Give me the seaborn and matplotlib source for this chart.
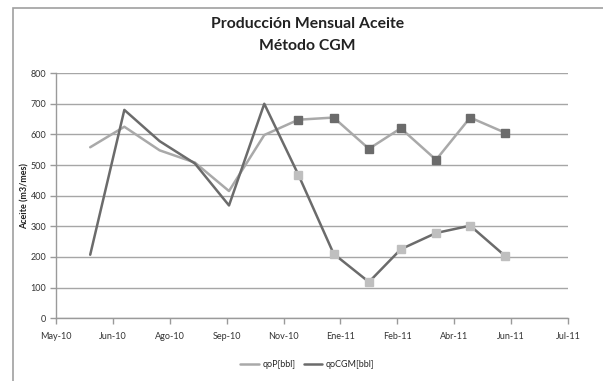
import datetime as dt
import matplotlib
matplotlib.use("Agg")
import matplotlib.pyplot as plt
from matplotlib.patches import Rectangle
from matplotlib.lines import Line2D
import numpy as np
import pandas as pd
import seaborn as sns

# Monthly production, May-2010 .. May-2011 (month-end dates)
fechas = pd.to_datetime([
    "2010-05-31", "2010-06-30", "2010-07-31", "2010-08-31", "2010-09-30",
    "2010-10-31", "2010-11-30", "2010-12-31", "2011-01-31", "2011-02-28",
    "2011-03-31", "2011-04-30", "2011-05-31",
])
qoP = [558, 625, 548, 508, 415, 598, 648, 655, 553, 620, 517, 655, 605]
qoCGM = [207, 680, 578, 505, 368, 700, 468, 210, 118, 225, 278, 302, 202]
inicio_marcadores = 6  # points from Nov-10 on carry square markers

meses_es = ["Ene", "Feb", "Mar", "Abr", "May", "Jun",
            "Jul", "Ago", "Sep", "Oct", "Nov", "Dic"]

df = pd.DataFrame({"fecha": fechas, "qoP[bbl]": qoP, "qoCGM[bbl]": qoCGM})

sns.set_theme(style="white")
plt.rcParams["font.family"] = ["Lato", "DejaVu Sans"]

fig = plt.figure(figsize=(6.03, 3.81), dpi=100)
ax = fig.add_axes([0.093, 0.165, 0.849, 0.643])

light = "#a9a9a9"
dark = "#6b6b6b"

sns.lineplot(data=df, x="fecha", y="qoP[bbl]", ax=ax, color=light, lw=1.8)
sns.lineplot(data=df, x="fecha", y="qoCGM[bbl]", ax=ax, color=dark, lw=1.8)

sub = df.iloc[inicio_marcadores:]
ax.plot(sub["fecha"], sub["qoP[bbl]"], ls="none", marker="s", ms=5.5,
        mfc=dark, mec=dark, zorder=4)
ax.plot(sub["fecha"], sub["qoCGM[bbl]"], ls="none", marker="s", ms=5.5,
        mfc="#bfbfbf", mec="#bfbfbf", zorder=4)

# Axes limits and ticks (date axis, 50-day major unit)
x0 = dt.datetime(2010, 5, 1)
x1 = x0 + dt.timedelta(days=450)
ax.set_xlim(x0, x1)
ticks = [x0 + dt.timedelta(days=50 * i) for i in range(10)]
ax.set_xticks(ticks)
ax.set_xticklabels([f"{meses_es[t.month - 1]}-{t.strftime('%y')}" for t in ticks])
ax.set_ylim(0, 800)
ax.set_yticks(np.arange(0, 801, 100))

ax.yaxis.grid(True, color="#a6a6a6", lw=1.0)
ax.xaxis.grid(False)
for s in ["top", "right"]:
    ax.spines[s].set_visible(False)
for s in ["left", "bottom"]:
    ax.spines[s].set_color("#9a9a9a")
    ax.spines[s].set_linewidth(1.0)
ax.tick_params(axis="both", which="major", length=4, width=1,
               color="#9a9a9a", labelsize=6.5, labelcolor="#333333",
               bottom=True, left=True, pad=3)
ax.tick_params(axis="x", pad=6)

ax.set_xlabel("")
ax.set_ylabel("Aceite (m3/mes)", fontsize=6.5, fontweight="bold",
              color="#222222")
ax.yaxis.set_label_coords(-0.051, 0.5)

fig.text(0.510, 0.938, "Producción Mensual Aceite", ha="center", va="center",
         fontsize=11.3, fontweight="bold", color="#222222")
fig.text(0.510, 0.880, "Método CGM", ha="center", va="center",
         fontsize=11.3, fontweight="bold", color="#222222")

handles = [Line2D([], [], color=light, lw=1.8),
           Line2D([], [], color=dark, lw=1.8)]
fig.legend(handles, ["qoP[bbl]", "qoCGM[bbl]"], loc="center",
           bbox_to_anchor=(0.51, 0.043), ncol=2, frameon=False,
           fontsize=6.5, handlelength=2.0, columnspacing=1.0,
           handletextpad=0.4)

# Outer chart frame
fig.patches.append(Rectangle((13 / 603, -0.02), 1.0, 1.0,
                             transform=fig.transFigure, fill=False,
                             ec="#a0a0a0", lw=1.2))

fig.savefig("out.png", dpi=100)
